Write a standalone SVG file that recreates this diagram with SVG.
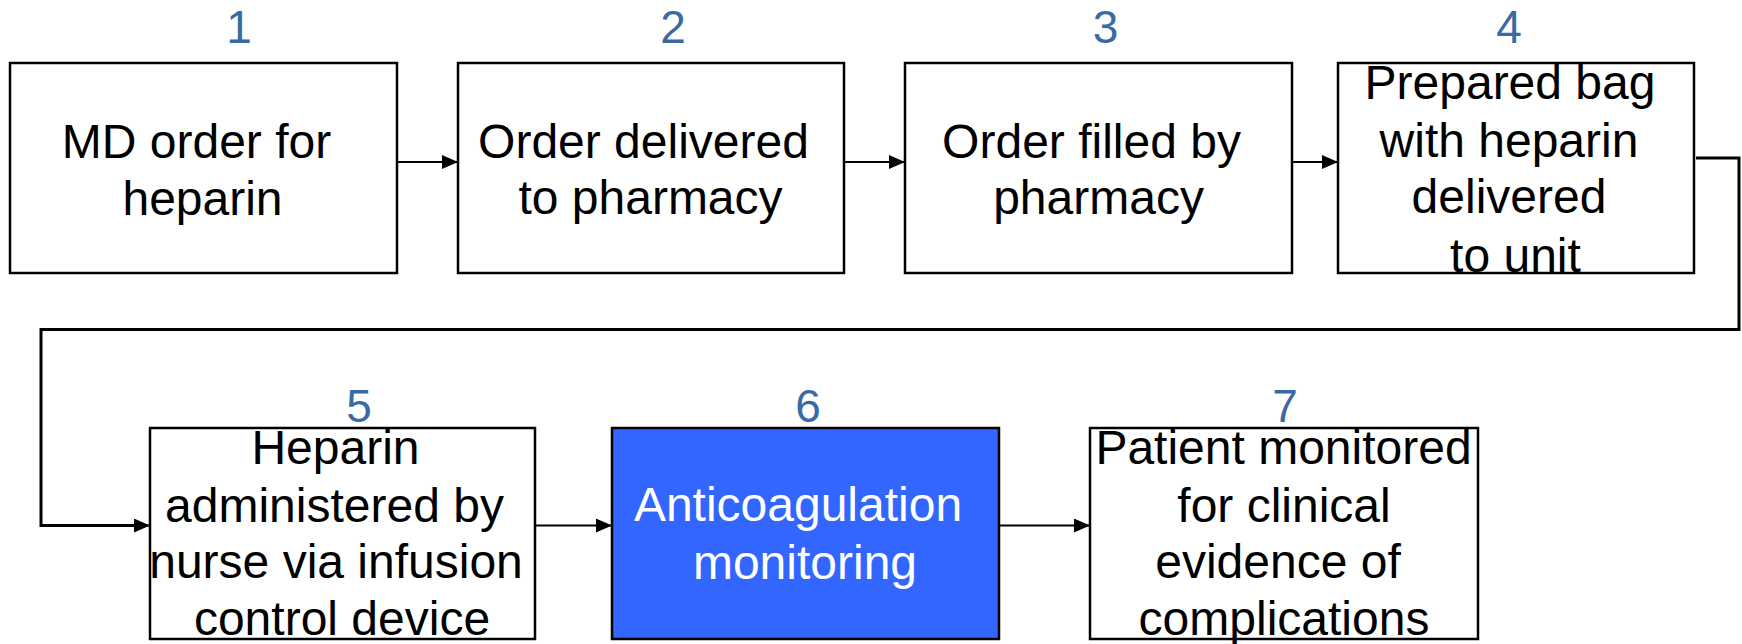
<svg xmlns="http://www.w3.org/2000/svg" width="1742" height="644" viewBox="0 0 1742 644">
<defs>
<style>
.box{fill:#ffffff;stroke:#000000;stroke-width:2.5}
.hl{fill:#3366ff;stroke:#000000;stroke-width:2.5}
.t{font-family:"Liberation Sans",Arial,sans-serif;font-size:48px;fill:#000000;text-anchor:middle}
.w{fill:#ffffff}
.n{font-family:"Liberation Sans",Arial,sans-serif;font-size:46px;fill:#3a6aa5;text-anchor:middle}
.c{fill:none;stroke:#000000;stroke-width:2}
.c3{fill:none;stroke:#000000;stroke-width:3}
</style>
<marker id="ah" markerUnits="userSpaceOnUse" markerWidth="16" markerHeight="14" refX="16" refY="7" orient="auto">
<path d="M0,0 L16,7 L0,14 z" fill="#000000"/>
</marker>
</defs>
<rect width="1742" height="644" fill="#ffffff"/>
<g id="connectors">
<line class="c" x1="397" y1="162" x2="458" y2="162" marker-end="url(#ah)"/>
<line class="c" x1="844" y1="162" x2="905" y2="162" marker-end="url(#ah)"/>
<line class="c" x1="1292" y1="162" x2="1338" y2="162" marker-end="url(#ah)"/>
<polyline class="c3" points="1696,158 1739,158 1739,329.5 41,329.5 41,525.5 134,525.5"/>
<line class="c" x1="130" y1="525.5" x2="150" y2="525.5" marker-end="url(#ah)"/>
<line class="c" x1="535" y1="525.5" x2="612" y2="525.5" marker-end="url(#ah)"/>
<line class="c" x1="999" y1="525.5" x2="1090" y2="525.5" marker-end="url(#ah)"/>
</g>
<g id="node1">
<text class="n" x="239" y="43">1</text>
<rect class="box" x="10" y="63" width="387" height="210"/>
<text class="t" x="196.5" y="158">MD order for</text>
<text class="t" x="202.5" y="215">heparin</text>
</g>
<g id="node2">
<text class="n" x="673" y="43">2</text>
<rect class="box" x="458" y="63" width="386" height="210"/>
<text class="t" x="643.5" y="158">Order delivered</text>
<text class="t" x="650.5" y="214">to pharmacy</text>
</g>
<g id="node3">
<text class="n" x="1105.5" y="43">3</text>
<rect class="box" x="905" y="63" width="387" height="210"/>
<text class="t" x="1091.5" y="158">Order filled by</text>
<text class="t" x="1098.5" y="214">pharmacy</text>
</g>
<g id="node4">
<text class="n" x="1509" y="43">4</text>
<rect class="box" x="1338" y="63" width="356" height="210"/>
<text class="t" x="1510" y="99">Prepared bag</text>
<text class="t" x="1509" y="157">with heparin</text>
<text class="t" x="1509" y="213">delivered</text>
<text class="t" x="1515.5" y="272">to unit</text>
</g>
<g id="node5">
<text class="n" x="359" y="422">5</text>
<rect class="box" x="150" y="428" width="385" height="211"/>
<text class="t" x="335.5" y="464">Heparin</text>
<text class="t" x="334.5" y="522">administered by</text>
<text class="t" x="336" y="578">nurse via infusion</text>
<text class="t" x="342" y="635">control device</text>
</g>
<g id="node6">
<text class="n" x="808" y="422">6</text>
<rect class="hl" x="612" y="428" width="387" height="211"/>
<text class="t w" x="798" y="521">Anticoagulation</text>
<text class="t w" x="805" y="579">monitoring</text>
</g>
<g id="node7">
<text class="n" x="1285" y="422">7</text>
<rect class="box" x="1090" y="428" width="388" height="211"/>
<text class="t" x="1283.5" y="464">Patient monitored</text>
<text class="t" x="1284" y="522">for clinical</text>
<text class="t" x="1278" y="578">evidence of</text>
<text class="t" x="1284" y="635">complications</text>
</g>
</svg>
